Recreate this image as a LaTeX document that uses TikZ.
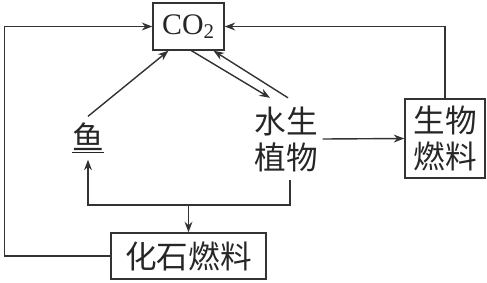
\documentclass[tikz,border=0pt]{standalone}
\usepackage{fontspec}
\setmainfont{Liberation Serif}
\newfontfamily\cjk{Noto Sans CJK SC}
\usetikzlibrary{arrows.meta,positioning,calc}

\begin{document}
\begin{tikzpicture}[x=0.02cm, y=-0.02cm, >={Stealth[length=6pt,width=4.5pt]},
    line width=0.8pt, draw=black!80,
    box/.style={draw=black!80, line width=0.8pt, inner sep=0pt, align=center},
    zh/.style={font=\cjk\fontsize{18}{20.5}\selectfont, text=black!85},
    link/.style={->, draw=black!80, line width=0.8pt}]
    \useasboundingbox (0,0) rectangle (487,282);

    \node[box, minimum width=1.42cm, minimum height=0.94cm, font=\fontsize{17}{20}\selectfont, text=black!85] (co2) at (188.5,26.5) {CO\textsubscript{2}};
    \node[zh, inner sep=0pt, minimum height=0.84cm] (fish) at (88,138) {\underline{鱼}};
    \node[zh, align=center, inner sep=0pt, minimum width=1.44cm, minimum height=1.62cm] (plant) at (286,139) {水生\\植物};
    \node[box, zh, minimum width=1.6cm, minimum height=1.58cm] (biofuel) at (445,138.5) {生物\\燃料};
    \node[box, zh, minimum width=3.1cm, minimum height=0.92cm] (fossil) at (188.5,256) {化石燃料};
    \coordinate (split) at (188.5,205);

    \draw[link] (fish.north) -- ($(co2.south)+(-20,0)$);
    \draw[link] ($(co2.south)+(3,0)$) -- ($(plant.north)+(-16,0)$);
    \draw[link] ($(plant.north)+(2,0)$) -- ($(co2.south)+(25,0)$);
    \draw[link] (plant.east) -- (biofuel.west);
    \draw[link] (biofuel.north) |- (co2.east);
    \draw[link] (fossil.west) -- ++(-106,0) |- (co2.west);
    \draw[link] ($(plant.south)+(4,0)$) |- (split) -| (fish.south);
    \draw[link] (split) -- (fossil.north);
  \end{tikzpicture}
\end{document}
